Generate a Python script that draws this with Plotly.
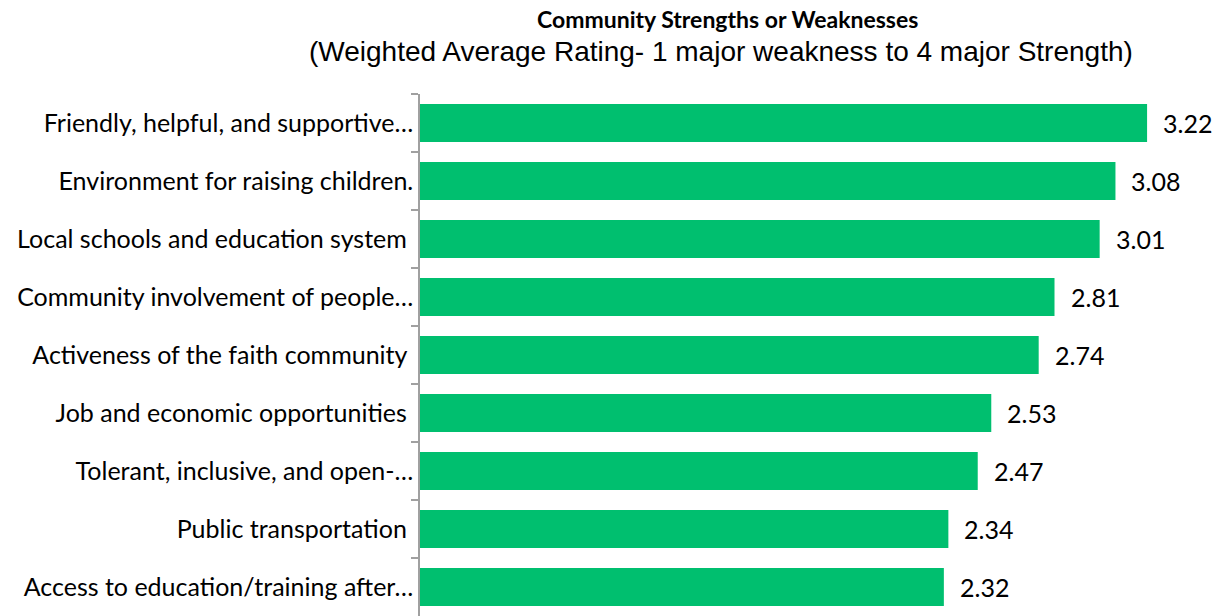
import plotly.graph_objects as go

categories = [
    "Friendly, helpful, and supportive…",
    "Environment for raising children.",
    "Local schools and education system\u00a0",
    "Community involvement of people…",
    "Activeness of the faith community\u00a0",
    "Job and economic opportunities\u00a0",
    "Tolerant, inclusive, and open-…",
    "Public transportation\u00a0",
    "Access to education/training after…",
]
values = [3.22, 3.08, 3.01, 2.81, 2.74, 2.53, 2.47, 2.34, 2.32]
value_labels = ["3.22", "3.08", "3.01", "2.81", "2.74", "2.53", "2.47", "2.34", "2.32"]

W, H = 1217, 616
ML, MR, MT, MB = 420, 0, 94, 0
scale = 225.8  # px per unit
xmax = (W - ML - MR) / scale

fig = go.Figure()
fig.add_trace(go.Bar(
    y=categories, x=values, orientation="h",
    marker=dict(color="#00BF6F", line=dict(width=0)),
    hoverinfo="x+y",
))

annotations = []
for c, v, t in zip(categories, values, value_labels):
    annotations.append(dict(x=v, y=c, xref="x", yref="y", text=t, showarrow=False,
                            xanchor="left", xshift=14, yshift=0,
                            font=dict(family="Lato", size=25, color="#000000")))

plot_h = H - MT - MB
annotations.append(dict(xref="paper", yref="paper", x=(727 - ML) / (W - ML - MR),
                        y=(H - MB - 19) / plot_h, xanchor="center", yanchor="middle",
                        text="<b>Community Strengths or Weaknesses</b>", showarrow=False,
                        font=dict(family="Lato", size=23, color="#000000")))
annotations.append(dict(xref="paper", yref="paper", x=(721 - ML) / (W - ML - MR),
                        y=(H - MB - 52) / plot_h, xanchor="center", yanchor="middle",
                        text="(Weighted Average Rating- 1 major weakness to 4 major Strength)",
                        showarrow=False,
                        font=dict(family="Liberation Sans", size=28, color="#000000")))

fig.update_layout(
    width=W, height=H,
    margin=dict(l=ML, r=MR, t=MT, b=MB),
    paper_bgcolor="white", plot_bgcolor="white",
    bargap=0.345, showlegend=False,
    annotations=annotations,
)
fig.update_xaxes(range=[0, xmax], visible=False, fixedrange=True)
fig.update_yaxes(
    autorange=False, range=[len(categories) - 0.5, -0.5],
    showline=True, linecolor="#A0A0A0", linewidth=1.5,
    ticks="outside", tickson="boundaries", ticklen=7, tickcolor="#A0A0A0", tickwidth=1.5,
    tickfont=dict(family="Lato", size=25, color="#000000"),
    showgrid=False, zeroline=False, fixedrange=True,
)

fig.write_html("out.html", config={"displayModeBar": False},
               post_script="document.body.style.margin='0px';")
